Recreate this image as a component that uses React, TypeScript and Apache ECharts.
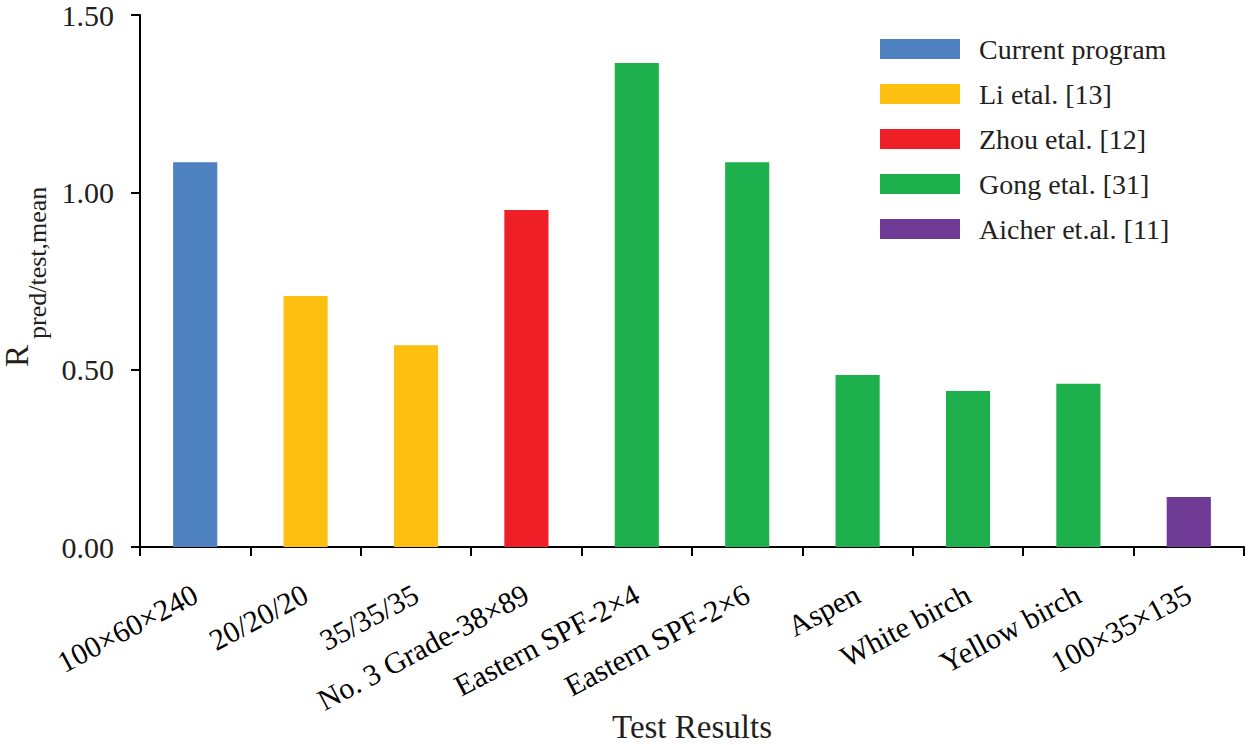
import React, { useEffect, useRef } from "react";
import * as echarts from "echarts";

const categories = [
  "100×60×240",
  "20/20/20",
  "35/35/35",
  "No. 3 Grade-38×89",
  "Eastern SPF-2×4",
  "Eastern SPF-2×6",
  "Aspen",
  "White birch",
  "Yellow birch",
  "100×35×135",
];

const seriesNames = [
  "Current program",
  "Li etal. [13]",
  "Zhou etal. [12]",
  "Gong etal. [31]",
  "Aicher et.al. [11]",
];
const seriesColors = ["#4E81C0", "#FDC010", "#EE1F26", "#1EB04D", "#6E3A96"];

const currentProgram = [1.085, "-", "-", "-", "-", "-", "-", "-", "-", "-"];
const liEtal = ["-", 0.708, 0.569, "-", "-", "-", "-", "-", "-", "-"];
const zhouEtal = ["-", "-", "-", 0.95, "-", "-", "-", "-", "-", "-"];
const gongEtal = ["-", "-", "-", "-", 1.365, 1.085, 0.485, 0.44, 0.46, "-"];
const aicherEtal = ["-", "-", "-", "-", "-", "-", "-", "-", "-", 0.141];

const seriesData = [currentProgram, liEtal, zhouEtal, gongEtal, aicherEtal];

const yTicks = { min: 0, max: 1.5, interval: 0.5 };

const xTitle = "Test Results";
const yTitleMain = "R";
const yTitleSub = "pred/test,mean";

const FONT = "Liberation Serif";
const TXT = "#231F20";

export default function App() {
  const ref = useRef<HTMLDivElement>(null);
  useEffect(() => {
    const chart = echarts.init(ref.current!, null, { renderer: "svg" });
    chart.setOption({
      animation: false,
      textStyle: { fontFamily: FONT, color: TXT },
      grid: { left: 140, right: 5, top: 15, bottom: 198, outerBoundsMode: "none" },
      legend: {
        orient: "vertical",
        left: 875,
        top: 30,
        itemWidth: 80,
        itemHeight: 20,
        itemGap: 17,
        icon: "rect",
        textStyle: { fontFamily: FONT, fontSize: 28, color: TXT, padding: [0, 0, 0, 14] },
        data: seriesNames,
      },
      graphic: [
        {
          type: "text",
          x: 17,
          y: 367,
          rotation: Math.PI / 2,
          style: {
            text: yTitleMain,
            font: `33px "${FONT}"`,
            lineHeight: 26,
            fill: TXT,
            textAlign: "left",
            textVerticalAlign: "middle",
          },
        },
        {
          type: "text",
          x: 37,
          y: 339,
          rotation: Math.PI / 2,
          style: {
            text: yTitleSub,
            font: `26px "${FONT}"`,
            fill: TXT,
            textAlign: "left",
            textVerticalAlign: "middle",
          },
        },
        {
          type: "text",
          x: 692,
          y: 727,
          style: {
            text: xTitle,
            font: `33px "${FONT}"`,
            lineHeight: 30,
            fill: TXT,
            textAlign: "center",
            textVerticalAlign: "middle",
          },
        },
      ],
      xAxis: {
        type: "category",
        data: categories,
        axisLine: { lineStyle: { color: "#000", width: 2 } },
        axisTick: { show: true, length: 9, lineStyle: { color: "#000", width: 2 } },
        axisLabel: {
          interval: 0,
          rotate: 28,
          fontFamily: FONT,
          fontSize: 30,
          color: "#000",
          margin: 45,
        },
      },
      yAxis: {
        type: "value",
        min: yTicks.min,
        max: yTicks.max,
        interval: yTicks.interval,
        splitLine: { show: false },
        axisLine: { show: true, lineStyle: { color: "#000", width: 2 } },
        axisTick: { show: true, length: 9, inside: false, lineStyle: { color: "#000", width: 2 } },
        axisLabel: {
          fontFamily: FONT,
          fontSize: 30,
          color: TXT,
          margin: 26,
          formatter: (v: number) => v.toFixed(2),
        },
      },
      series: seriesNames.map((name, i) => ({
        name,
        type: "bar",
        stack: "all",
        barWidth: "40%",
        itemStyle: { color: seriesColors[i] },
        data: seriesData[i],
      })),
    });
    return () => chart.dispose();
  }, []);
  return (
    <div
      ref={ref}
      style={{ position: "fixed", left: 0, top: 0, width: 1249, height: 745, background: "#fff" }}
    />
  );
}
